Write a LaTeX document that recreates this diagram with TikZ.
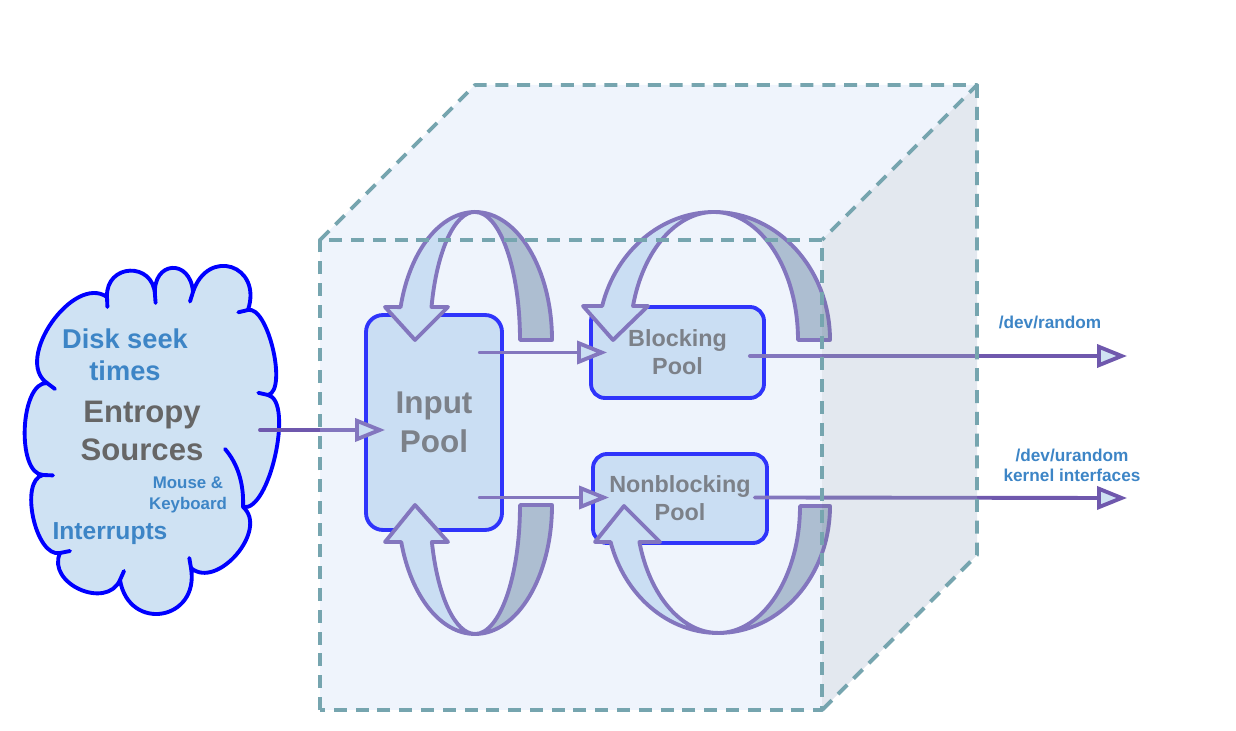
\documentclass[tikz,border=0pt]{standalone}
\usepackage{fontspec}
\setmainfont{Liberation Sans}
\usetikzlibrary{arrows.meta,calc}
\definecolor{cubetint}{HTML}{BFD3F3}
\definecolor{sidetint}{HTML}{A2B2CA}
\definecolor{cubeteal}{HTML}{76A5AF}
\definecolor{cloudfill}{HTML}{CFE2F3}
\definecolor{cloudblue}{HTML}{0000FF}
\definecolor{ringgray}{HTML}{A8B8C6}
\definecolor{linepurple}{HTML}{6F58AD}
\definecolor{textblue}{HTML}{3D85C6}
\definecolor{textgray}{HTML}{666666}
\begin{document}
\begin{tikzpicture}[x=0.02cm,y=0.02cm,
  cubeedge/.style={draw=cubeteal,line width=2.2pt,dash pattern=on 7.4pt off 5pt,line join=round},
  puff/.style={draw=cloudblue,line width=2.2pt,line cap=round,line join=round},
  pool/.style={draw=cloudblue,fill=cloudfill,line width=2.2pt,rounded corners=0.34cm,
    align=center,text=textgray,inner sep=0pt},
  ringfront/.style={draw=linepurple,fill=cloudfill,line width=2.2pt,line join=round},
  ringback/.style={draw=linepurple,fill=ringgray,line width=2.2pt,line join=round},
  conn/.style={draw=linepurple,line width=2.2pt,line cap=round,
    -{Triangle[length=0.6cm,width=0.46cm,fill=cloudfill]}},
  srctext/.style={align=center,inner sep=0pt,font=\bfseries}]
\useasboundingbox (0,0) rectangle (1236,730);

% entropy sources cloud
\coordinate (p1) at (47,347);
\coordinate (p2) at (107,433);
\coordinate (p3) at (155,435);
\coordinate (p4) at (193,438);
\coordinate (p5) at (248,420);
\coordinate (p6) at (268,335);
\coordinate (p7) at (243,223);
\coordinate (p8) at (191,162);
\coordinate (p9) at (120,150);
\coordinate (p10) at (60,177);
\coordinate (p11) at (43,255);
\filldraw[puff,fill=cloudfill]
  (p1) to[bend left=90,looseness=1.0] (p2)
  to[bend left=90,looseness=1.8] (p3)
  to[bend left=90,looseness=2.3] (p4)
  to[bend left=90,looseness=2.1] (p5)
  to[bend left=90,looseness=0.6] (p6)
  to[bend left=90,looseness=0.6] (p7)
  to[bend left=90,looseness=1.1] (p8)
  to[bend left=90,looseness=1.9] (p9)
  to[bend left=90,looseness=1.3] (p10)
  to[bend left=90,looseness=0.8] (p11)
  to[bend left=90,looseness=0.75] (p1) -- cycle;
\draw[puff] (p1) -- +(8,-6);
\draw[puff] (p2) -- +(0.4,-10);
\draw[puff] (p3) -- +(0.6,-8);
\draw[puff] (p4) -- +(-3,-9.5);
\draw[puff] (p5) -- +(-9.7,-2.3);
\draw[puff] (p6) -- +(-9.7,2.2);
\draw[puff] (p7) .. controls (244,246) and (238,266) .. (225,281);
\draw[puff] (p8) -- +(-1.7,10);
\draw[puff] (p9) -- +(4,9);
\draw[puff] (p10) -- +(10,2);
\draw[puff] (p11) -- +(10,-0.4);
\coordinate (srcout) at (260,300);
\node[srctext,text=textblue,font=\fontsize{15.5}{18}\selectfont\bfseries] (disk) at (125,375) {Disk seek\\times};
\node[srctext,text=textgray,font=\fontsize{17.7}{21.5}\selectfont\bfseries] (entropy) at (142,299) {Entropy\\Sources};
\node[srctext,text=textblue,font=\fontsize{9.6}{12}\selectfont\bfseries] (mouse) at (188,235) {Mouse \&\\Keyboard};
\node[srctext,text=textblue,font=\fontsize{14}{17}\selectfont\bfseries] (irq) at (110,196) {Interrupts};

% pools
\node[pool,minimum width=2.72cm,minimum height=4.3cm,font=\fontsize{17.9}{22}\selectfont\bfseries] (input) at (434,307.5) {Input\\Pool};
\node[pool,rounded corners=0.28cm,minimum width=3.46cm,minimum height=1.82cm,font=\fontsize{13.3}{16}\selectfont\bfseries] (blocking) at (677.5,377.5) {Blocking\\Pool};
\node[pool,rounded corners=0.28cm,minimum width=3.48cm,minimum height=1.78cm,font=\fontsize{13.3}{16}\selectfont\bfseries] (nonblocking) at (680,231.5) {Nonblocking\\Pool};

% mixing rings
\draw[ringback] (552,390) arc[start angle=0,end angle=90,x radius=77,y radius=128]
  arc[start angle=90,end angle=0,x radius=45,y radius=128] -- cycle;
\draw[ringfront] (475,518) arc[start angle=90,end angle=165.1,x radius=77,y radius=128]
  -- (385,423) -- (415,390) -- (448,423) -- (431.5,423)
  arc[start angle=165.1,end angle=90,x radius=45,y radius=128] -- cycle;
\draw[ringback] (552,225) arc[start angle=0,end angle=-90,x radius=77,y radius=129]
  arc[start angle=-90,end angle=0,x radius=45,y radius=129] -- cycle;
\draw[ringfront] (475,96) arc[start angle=-90,end angle=-163.3,x radius=77,y radius=129]
  -- (385,188) -- (415,225) -- (448,188) -- (431.9,188)
  arc[start angle=-163.3,end angle=-90,x radius=45,y radius=129] -- cycle;
\draw[ringback] (830,390) arc[start angle=0,end angle=90,x radius=116,y radius=128]
  arc[start angle=90,end angle=0,x radius=84,y radius=128] -- cycle;
\draw[ringfront] (714,518) arc[start angle=90,end angle=164.6,x radius=116,y radius=128]
  -- (583,424) -- (613,390) -- (648,424) -- (633,424)
  arc[start angle=164.6,end angle=90,x radius=84,y radius=128] -- cycle;
\draw[ringback] (830,224) arc[start angle=0,end angle=-90,x radius=112,y radius=127]
  arc[start angle=-90,end angle=0,x radius=82,y radius=127] -- cycle;
\draw[ringfront] (718,97) arc[start angle=-90,end angle=-163.5,x radius=112,y radius=127]
  -- (595,188) -- (624,224) -- (660,188) -- (639.4,188)
  arc[start angle=-163.5,end angle=-90,x radius=82,y radius=127] -- cycle;

% connectors
\coordinate (rndend) at (1127,374);
\coordinate (urndend) at (1127,232);
\draw[conn] (srcout) -- ($(input.west)+(21,-7.5)$);
\draw[conn] ($(input.east |- blocking.west)+(-24,0)$) -- ($(blocking.west)+(18,0)$);
\draw[conn] ($(input.east |- nonblocking.west)+(-24,1)$) -- ($(nonblocking.west)+(18,1)$);
\draw[conn] ($(blocking.east)+(-16,-3.5)$) -- (rndend);
\draw[conn] ($(nonblocking.east)+(-14,1)$) -- (urndend);
\node[srctext,text=textblue,font=\fontsize{9.8}{11.3}\selectfont\bfseries] (rndlabel) at (1050,408) {/dev/random};
\node[srctext,text=textblue,font=\fontsize{9.8}{11.3}\selectfont\bfseries] (urndlabel) at (1072,265) {/dev/urandom\\kernel interfaces};

% kernel box
\fill[cubetint,fill opacity=0.25] (320,20) rectangle (822,490);
\fill[cubetint,fill opacity=0.25] (320,490) -- (475,645) -- (977,645) -- (822,490) -- cycle;
\fill[sidetint,fill opacity=0.3] (822,490) -- (977,645) -- (977,175) -- (822,20) -- cycle;
\draw[cubeedge] (320,20) rectangle (822,490);
\draw[cubeedge] (320,490) -- (475,645) -- (977,645) -- (822,490);
\draw[cubeedge] (977,645) -- (977,175) -- (822,20);
\end{tikzpicture}
\end{document}
